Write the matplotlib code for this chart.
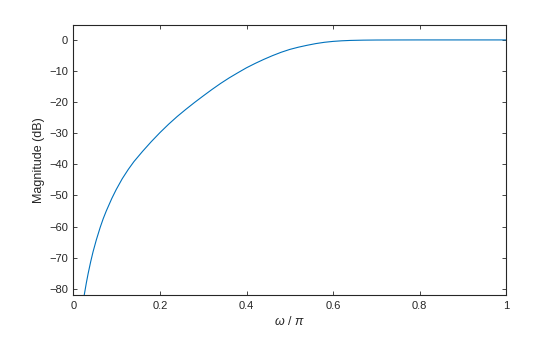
import matplotlib
matplotlib.use('Agg')
import matplotlib.pyplot as plt

# normalized frequency (w/pi) and magnitude in dB
freq = [0.025, 0.030, 0.034, 0.040, 0.0455, 0.053, 0.062, 0.069, 0.076, 0.089,
        0.099, 0.113, 0.127, 0.140, 0.160, 0.180, 0.200, 0.220, 0.240, 0.260,
        0.280, 0.300, 0.320, 0.340, 0.360, 0.380, 0.400, 0.420, 0.440, 0.460,
        0.480, 0.500, 0.520, 0.540, 0.560, 0.580, 0.600, 0.620, 0.640, 0.670,
        0.700, 0.750, 0.800, 0.900, 1.000]
mag_db = [-82.1, -78.1, -75.2, -71.3, -68.1, -64.3, -60.25, -57.45, -55.0, -50.9,
          -48.1, -44.6, -41.6, -39.1, -35.8, -32.7, -29.8, -27.1, -24.6, -22.3,
          -20.1, -18.0, -15.95, -14.0, -12.2, -10.55, -8.95, -7.55, -6.25, -5.05,
          -3.97, -3.05, -2.33, -1.72, -1.18, -0.76, -0.47, -0.28, -0.16, -0.07,
          -0.03, -0.01, 0.0, 0.0, 0.0]

plt.rcParams['font.family'] = ['Liberation Sans', 'DejaVu Sans']
plt.rcParams['mathtext.fontset'] = 'custom'
plt.rcParams['mathtext.it'] = 'Liberation Sans:italic'
plt.rcParams['mathtext.rm'] = 'Liberation Sans'

fig = plt.figure(figsize=(5.6, 3.37), dpi=100)
ax = fig.add_axes([0.131, 0.1246, 0.773, 0.8003])

ax.plot(freq, mag_db, color='#0072BD', lw=0.8)

ax.set_xlim(0, 1)
ax.set_ylim(-82, 4.7)
ax.set_xticks([0, 0.2, 0.4, 0.6, 0.8, 1])
ax.set_xticklabels(['0', '0.2', '0.4', '0.6', '0.8', '1'])
ax.set_yticks(range(-80, 1, 10))

axc = '#262626'
for s in ax.spines.values():
    s.set_color(axc)
    s.set_linewidth(0.8)
ax.tick_params(direction='in', length=3, width=0.6, colors=axc,
               labelsize=8, top=True, right=True, pad=4)
ax.set_xlabel(r'$\omega$ / $\pi$', fontsize=9, color=axc, labelpad=3)
ax.set_ylabel('Magnitude (dB)', fontsize=9, color=axc, labelpad=3)

fig.savefig('out.png', dpi=100)
